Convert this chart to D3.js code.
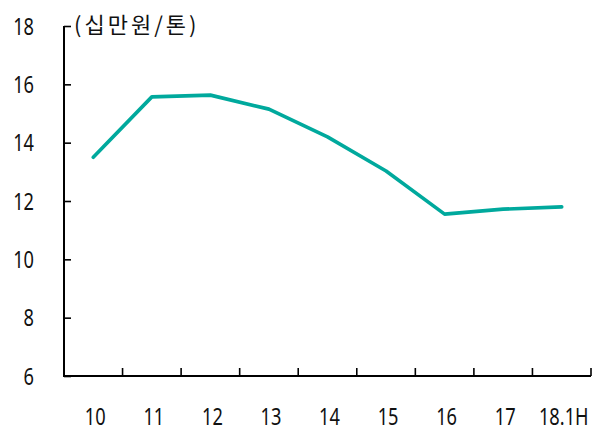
<!DOCTYPE html>
<html><head><meta charset="utf-8">
<script src="https://cdn.jsdelivr.net/npm/d3@7"></script>
<style>body{margin:0;background:#fff;} text{font-family:"Noto Sans","Noto Sans CJK KR",sans-serif;}</style>
</head><body>
<svg id="c" width="594" height="430"></svg>
<script>
const categories = ["10","11","12","13","14","15","16","17","18.1H"];
const values = [13.5, 15.57, 15.63, 15.15, 14.2, 13.03, 11.55, 11.72, 11.8];
const yTicks = [6, 8, 10, 12, 14, 16, 18];
const unitLabel = "(십만원/톤)";

const svg = d3.select("#c");
const x = d3.scaleBand().domain(categories).range([64, 591]);
const y = d3.scaleLinear().domain([6, 18]).range([376, 26]);

// y axis
const ya = svg.append("g").attr("transform", "translate(64,0)")
  .call(d3.axisRight(y).tickValues(yTicks).tickSize(7).tickFormat(""));
ya.select(".domain").attr("d", `M0,${y(18)}V${y(6)}`).attr("stroke", "#000").attr("stroke-width", 2);
ya.selectAll(".tick line").attr("stroke", "#000").attr("stroke-width", 1.6);
svg.append("g").selectAll("text").data(yTicks).join("text")
  .attr("transform", d => `translate(34,${y(d)}) scale(0.76,1)`).attr("dy", "0.36em")
  .attr("text-anchor", "end").attr("font-size", 24).attr("fill", "#111").text(d => d);

// x axis
const xa = svg.append("g").attr("transform", "translate(0,376)")
  .call(d3.axisTop(x).tickSize(0).tickFormat(""));
xa.select(".domain").attr("d", "M63,0H591").attr("stroke", "#000").attr("stroke-width", 2);
const bounds = categories.slice(1).map(c => x(c)).concat([591]);
svg.append("g").selectAll("line").data(bounds).join("line")
  .attr("x1", d => d).attr("x2", d => d).attr("y1", 376).attr("y2", 368)
  .attr("stroke", "#000").attr("stroke-width", 1.6);
svg.append("g").selectAll("text").data(categories).join("text")
  .attr("transform", d => `translate(${x(d) + x.bandwidth() / 2 + 2},416) scale(0.76,1)`).attr("dy", "0.36em")
  .attr("text-anchor", "middle").attr("font-size", 24).attr("fill", "#111").text(d => d);

// unit label
svg.append("text").attr("x", 74).attr("y", 25).attr("dy", "0.36em")
  .style("font-family", "'Noto Sans CJK KR',sans-serif")
  .attr("font-size", 22).attr("letter-spacing", 3).attr("fill", "#111").text(unitLabel);

// line
const line = d3.line().x((d, i) => x(categories[i]) + x.bandwidth() / 2).y(d => y(d));
svg.append("path").datum(values).attr("d", line).attr("fill", "none")
  .attr("stroke", "#00A99D").attr("stroke-width", 3.6).attr("stroke-linejoin", "round").attr("stroke-linecap", "round");
</script>
</body></html>
